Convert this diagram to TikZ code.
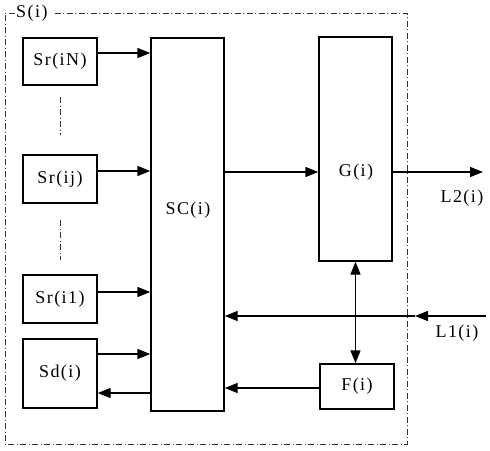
\documentclass[tikz,border=0pt]{standalone}
\usepackage{fontspec}
\setmainfont[LetterSpace=8]{Liberation Serif}
\usetikzlibrary{arrows.meta}
\begin{document}
\begin{tikzpicture}[x=1pt,y=-1pt,
  blk/.style={draw,line width=1.4pt,minimum width=74pt,inner sep=0pt},
  lbl/.style={font=\fontsize{18}{21}\selectfont,inner sep=1pt},
  arr/.style={line width=1.4pt,-{Triangle[length=13pt,width=10pt]}},
  dd/.style={line width=0.8pt,dash pattern=on 6pt off 2.5pt on 1pt off 2.5pt,black!80}]
\useasboundingbox (0,0) rectangle (490,450);
% frame
\node[lbl,anchor=west] (si) at (15,13) {S(i)};
\draw[dd] (si.east) ++(6,0) -- (407,13) -- (407,444) -- (5,444) -- (5,13) -- (si.west);
% blocks
\node[blk,minimum height=47pt,lbl] (srN) at (60,61.5) {Sr(iN)};
\node[blk,minimum height=48pt,lbl] (srj) at (60,179) {Sr(ij)};
\node[blk,minimum height=48pt,lbl] (sr1) at (60,299) {Sr(i1)};
\node[blk,minimum height=69pt,lbl] (sd) at (60,373.5) {Sd(i)};
\node[blk,minimum width=73pt,minimum height=373pt] (sc) at (187.5,224.5) {};
\node[lbl] (sct) at (188,210) {SC(i)};
\node[blk,minimum width=73pt,minimum height=224pt,lbl] (g) at (355.5,149) {};
\node[lbl] (gt) at (356,172) {G(i)};
\node[blk,minimum height=45pt,lbl] (f) at (357,386.5) {F(i)};
% dotted separators
\draw[dd] (60,97) -- (60,135);
\draw[dd] (60,220) -- (60,260);
% arrows into SC
\draw[arr] (srN.east |- 0,53) -- (sc.west |- 0,53);
\draw[arr] (srj.east |- 0,171) -- (sc.west |- 0,171);
\draw[arr] (sr1.east |- 0,292) -- (sc.west |- 0,292);
\draw[arr] (sd.east |- 0,354) -- (sc.west |- 0,354);
\draw[arr] (sc.west |- 0,393) -- (sd.east |- 0,393);
\draw[arr] (sc.east |- 0,172) -- (g.west |- 0,172);
% outputs
\coordinate (l2) at (483,172);
\draw[arr] (g.east |- 0,172) -- (l2);
\node[lbl] (l2t) at (462,198) {L2(i)};
\coordinate (l1) at (486,316);
\coordinate (l1m) at (415,316);
\draw[arr] (l1) -- (l1m);
\draw[arr] (l1m) -- (sc.east |- 0,316);
\node[lbl] (l1t) at (457,333) {L1(i)};
\draw[line width=1.4pt,{Triangle[length=13pt,width=10pt]}-{Triangle[length=13pt,width=10pt]}] (g.south) -- (g.south |- f.north);
\draw[arr] (f.west |- 0,388) -- (sc.east |- 0,388);
\end{tikzpicture}
\end{document}
